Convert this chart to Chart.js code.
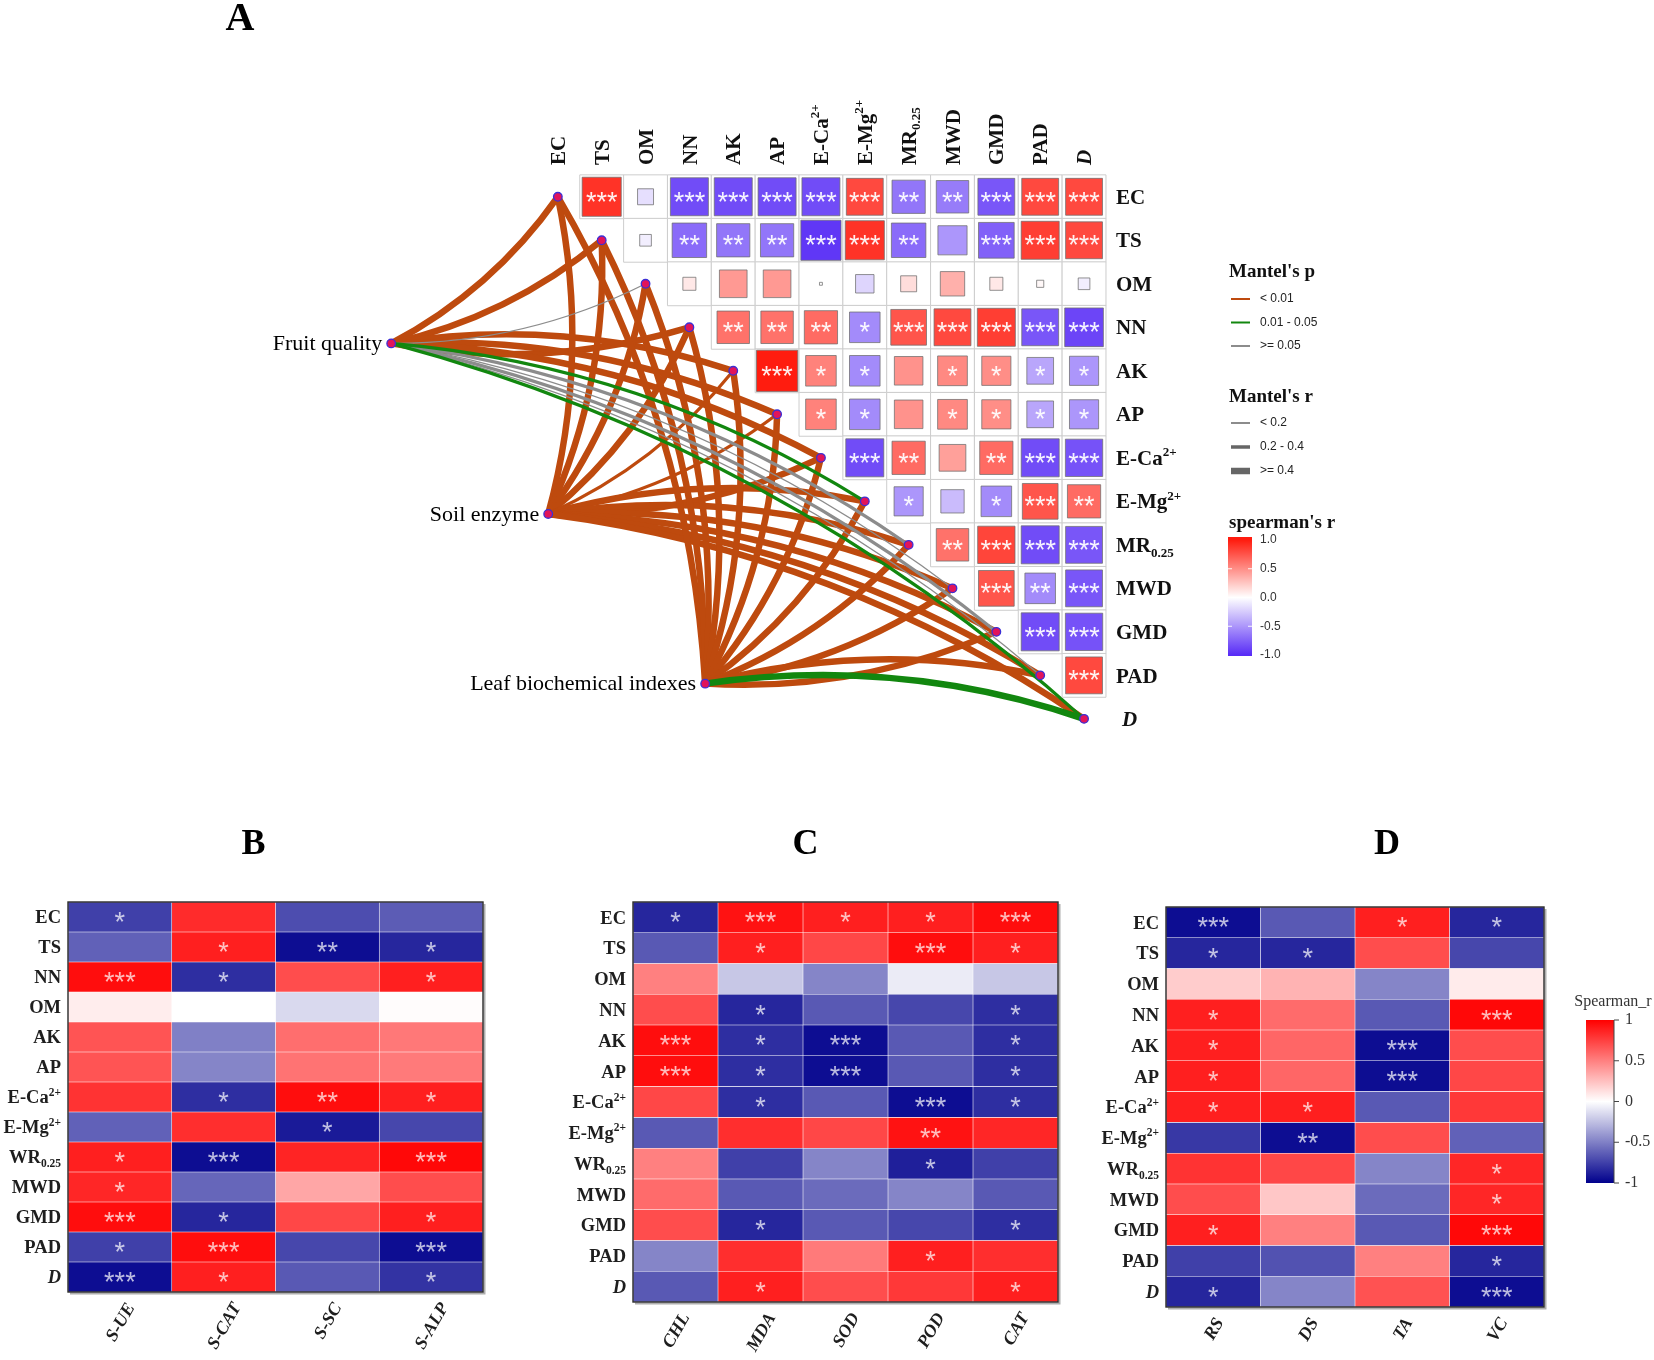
<!DOCTYPE html>
<html>
<head>
<meta charset="utf-8">
<script src="https://cdn.jsdelivr.net/npm/chart.js@4.4.1/dist/chart.umd.min.js"></script>
<style>
  html, body { margin: 0; background: #fff; }
  #page { position: relative; width: 1654px; height: 1360px; background: #fff; overflow: hidden; }
  canvas { position: absolute; }
</style>
</head>
<body>
<div id="page">
  <canvas id="chartA" width="1654" height="770" style="left:0;top:0"></canvas>
  <canvas id="chartB" width="540" height="580" style="left:0;top:780px"></canvas>
  <canvas id="chartC" width="540" height="580" style="left:540px;top:780px"></canvas>
  <canvas id="chartD" width="574" height="580" style="left:1080px;top:780px"></canvas>
</div>
<script>
// ---------- panel A data ----------
const envVars = ['EC', 'TS', 'OM', 'NN', 'AK', 'AP', 'E-Ca^{2+}', 'E-Mg^{2+}', 'MR_{0.25}', 'MWD', 'GMD', 'PAD', 'D'];

// upper triangle, row i holds columns i+1 .. 12
const corrA = [
  [0.90, -0.15, -0.85, -0.85, -0.85, -0.85, 0.80, -0.65, -0.62, -0.80, 0.80, 0.80],
  [-0.08, -0.70, -0.65, -0.65, -0.95, 0.90, -0.70, -0.50, -0.75, 0.85, 0.80],
  [0.10, 0.45, 0.45, 0.005, -0.20, 0.15, 0.35, 0.10, 0.03, -0.08],
  [0.62, 0.62, 0.65, -0.55, 0.75, 0.80, 0.85, -0.80, -0.88],
  [1.00, 0.55, -0.55, 0.48, 0.52, 0.50, -0.42, -0.50],
  [0.55, -0.55, 0.48, 0.52, 0.50, -0.42, -0.50],
  [-0.85, 0.65, 0.42, 0.65, -0.85, -0.82],
  [-0.50, -0.32, -0.55, 0.75, 0.65],
  [0.62, 0.82, -0.85, -0.80],
  [0.75, -0.55, -0.80],
  [-0.85, -0.82],
  [0.80],
  []
];
const starsA = [
  ['***', '', '***', '***', '***', '***', '***', '**', '**', '***', '***', '***'],
  ['', '**', '**', '**', '***', '***', '**', '', '***', '***', '***'],
  ['', '', '', '', '', '', '', '', '', ''],
  ['**', '**', '**', '*', '***', '***', '***', '***', '***'],
  ['***', '*', '*', '', '*', '*', '*', '*'],
  ['*', '*', '', '*', '*', '*', '*'],
  ['***', '**', '', '**', '***', '***'],
  ['*', '', '*', '***', '**'],
  ['**', '***', '***', '***'],
  ['***', '**', '***'],
  ['***', '***'],
  ['***'],
  []
];

const groups = ['Fruit quality', 'Soil enzyme', 'Leaf biochemical indexes'];
const groupX = [-3.80, -0.22, 3.36];   // in cell units of the matrix
const groupY = [3.37, 7.29, 11.19];
// Mantel's p class: 0 '< 0.01', 1 '0.01 - 0.05', 2 '>= 0.05'
const mantelP = [
  [0, 0, 2, 0, 0, 0, 0, 1, 2, 2, 2, 2, 1],
  [0, 0, 0, 0, 0, 0, 0, 0, 0, 0, 0, 0, 0],
  [0, 0, 0, 0, 0, 0, 0, 0, 0, 0, 0, 0, 1]
];
// Mantel's r class: 0 '< 0.2', 1 '0.2 - 0.4', 2 '>= 0.4'
const mantelR = [
  [2, 2, 0, 2, 2, 2, 2, 1, 1, 0, 1, 0, 1],
  [2, 2, 2, 2, 1, 1, 2, 2, 2, 2, 2, 2, 2],
  [2, 2, 2, 2, 2, 2, 2, 2, 2, 2, 2, 2, 2]
];
const pLevels = ['< 0.01', '0.01 - 0.05', '>= 0.05'];
const rLevels = ['< 0.2', '0.2 - 0.4', '>= 0.4'];
const ticksA = [1, 0.5, 0, -0.5, -1];

// ---------- panels B, C, D data ----------
const rowsB = ['EC', 'TS', 'NN', 'OM', 'AK', 'AP', 'E-Ca^{2+}', 'E-Mg^{2+}', 'WR_{0.25}', 'MWD', 'GMD', 'PAD', 'D'];
const colsB = ['S-UE', 'S-CAT', 'S-SC', 'S-ALP'];
const corrB = [
  [-0.75, 0.83, -0.70, -0.64],
  [-0.62, 0.88, -0.95, -0.85],
  [0.95, -0.82, 0.70, 0.88],
  [0.07, 0.00, -0.15, 0.01],
  [0.67, -0.50, 0.57, 0.53],
  [0.67, -0.48, 0.55, 0.52],
  [0.80, -0.82, 0.95, 0.88],
  [-0.62, 0.82, -0.90, -0.72],
  [0.88, -0.95, 0.86, 0.97],
  [0.85, -0.60, 0.35, 0.70],
  [0.95, -0.85, 0.72, 0.88],
  [-0.75, 0.95, -0.72, -0.95],
  [-0.95, 0.88, -0.65, -0.80]
];
const starsB = [
  ['*', '', '', ''],
  ['', '*', '**', '*'],
  ['***', '*', '', '*'],
  ['', '', '', ''],
  ['', '', '', ''],
  ['', '', '', ''],
  ['', '*', '**', '*'],
  ['', '', '*', ''],
  ['*', '***', '', '***'],
  ['*', '', '', ''],
  ['***', '*', '', '*'],
  ['*', '***', '', '***'],
  ['***', '*', '', '*']
];

const rowsCD = ['EC', 'TS', 'OM', 'NN', 'AK', 'AP', 'E-Ca^{2+}', 'E-Mg^{2+}', 'WR_{0.25}', 'MWD', 'GMD', 'PAD', 'D'];
const colsC = ['CHL', 'MDA', 'SOD', 'POD', 'CAT'];
const corrC = [
  [-0.85, 0.93, 0.88, 0.88, 0.95],
  [-0.65, 0.88, 0.72, 0.95, 0.88],
  [0.50, -0.22, -0.48, -0.08, -0.22],
  [0.70, -0.85, -0.65, -0.72, -0.82],
  [0.95, -0.82, -0.95, -0.65, -0.82],
  [0.95, -0.82, -0.95, -0.65, -0.82],
  [0.72, -0.82, -0.65, -0.95, -0.82],
  [-0.65, 0.82, 0.72, 0.93, 0.85],
  [0.50, -0.75, -0.48, -0.88, -0.75],
  [0.58, -0.65, -0.58, -0.48, -0.65],
  [0.70, -0.85, -0.65, -0.72, -0.82],
  [-0.48, 0.82, 0.52, 0.88, 0.82],
  [-0.65, 0.88, 0.70, 0.78, 0.88]
];
const starsC = [
  ['*', '***', '*', '*', '***'],
  ['', '*', '', '***', '*'],
  ['', '', '', '', ''],
  ['', '*', '', '', '*'],
  ['***', '*', '***', '', '*'],
  ['***', '*', '***', '', '*'],
  ['', '*', '', '***', '*'],
  ['', '', '', '**', ''],
  ['', '', '', '*', ''],
  ['', '', '', '', ''],
  ['', '*', '', '', '*'],
  ['', '', '', '*', ''],
  ['', '*', '', '', '*']
];

const colsD = ['RS', 'DS', 'TA', 'VC'];
const corrD = [
  [-0.95, -0.65, 0.88, -0.85],
  [-0.85, -0.85, 0.70, -0.72],
  [0.20, 0.30, -0.48, 0.08],
  [0.88, 0.58, -0.65, 0.97],
  [0.88, 0.60, -0.95, 0.70],
  [0.88, 0.60, -0.95, 0.72],
  [0.88, 0.88, -0.65, 0.78],
  [-0.78, -0.95, 0.70, -0.62],
  [0.80, 0.72, -0.48, 0.85],
  [0.70, 0.22, -0.58, 0.85],
  [0.88, 0.50, -0.65, 0.97],
  [-0.75, -0.68, 0.50, -0.85],
  [-0.85, -0.48, 0.68, -0.95]
];
const starsD = [
  ['***', '', '*', '*'],
  ['*', '*', '', ''],
  ['', '', '', ''],
  ['*', '', '', '***'],
  ['*', '', '***', ''],
  ['*', '', '***', ''],
  ['*', '*', '', ''],
  ['', '**', '', ''],
  ['', '', '', '*'],
  ['', '', '', '*'],
  ['*', '', '', '***'],
  ['', '', '', '*'],
  ['*', '', '', '***']
];
const ticksD = [1, 0.5, 0, -0.5, -1];

// ---------- styling ----------
const SERIF = '"Liberation Serif", "Times New Roman", serif';
const SANS = '"Liberation Sans", Arial, sans-serif';
const P_COLORS = ['#BE4A0E', '#12870F', '#8C8C8C'];
const R_WIDTHS = [1.3, 3.2, 6.5];
const CURV = 0.12;
const italicLabels = new Set(['D']);

function mix(c, t) {
  t = Math.max(0, Math.min(1, t));
  return `rgb(${Math.round(255 + (c[0] - 255) * t)},${Math.round(255 + (c[1] - 255) * t)},${Math.round(255 + (c[2] - 255) * t)})`;
}
const colorA = v => v >= 0 ? mix([255, 28, 15], v) : mix([88, 44, 246], -v);
const colorHeat = v => v >= 0 ? mix([255, 0, 0], v) : mix([0, 0, 140], -v);

function parseRich(label) {
  const segs = [];
  const re = /\^\{([^}]*)\}|_\{([^}]*)\}|([^\^_]+)/g;
  let m;
  while ((m = re.exec(label))) {
    if (m[1] !== undefined) segs.push({ t: m[1], k: 'sup' });
    else if (m[2] !== undefined) segs.push({ t: m[2], k: 'sub' });
    else segs.push({ t: m[3], k: 'n' });
  }
  return segs;
}

// baseline-positioned rich text (super/subscripts)
function drawRich(ctx, label, x, y, size, opt) {
  const segs = parseRich(label);
  const style = (italicLabels.has(label) ? 'italic ' : (opt.italic ? 'italic ' : '')) + (opt.bold ? 'bold ' : '');
  const font = s => `${style}${s}px ${SERIF}`;
  let w = 0;
  segs.forEach(s => {
    s.size = s.k === 'n' ? size : size * 0.62;
    ctx.font = font(s.size);
    s.w = ctx.measureText(s.t).width;
    w += s.w;
  });
  let cx = opt.align === 'right' ? x - w : opt.align === 'center' ? x - w / 2 : x;
  ctx.textAlign = 'left';
  ctx.textBaseline = 'alphabetic';
  ctx.fillStyle = opt.color || '#111';
  segs.forEach(s => {
    ctx.font = font(s.size);
    const dy = s.k === 'sup' ? -size * 0.42 : s.k === 'sub' ? size * 0.22 : 0;
    ctx.fillText(s.t, cx, y + dy);
    cx += s.w;
  });
  return w;
}

function richWidth(ctx, label, size, opt) {
  let w = 0;
  const style = (italicLabels.has(label) || opt.italic ? 'italic ' : '') + (opt.bold ? 'bold ' : '');
  parseRich(label).forEach(s => {
    ctx.font = `${style}${s.k === 'n' ? size : size * 0.62}px ${SERIF}`;
    w += ctx.measureText(s.t).width;
  });
  return w;
}

function drawStars(ctx, s, cx, cy, size, color) {
  if (!s) return;
  ctx.font = `${size}px ${SANS}`;
  ctx.textAlign = 'center';
  ctx.textBaseline = 'alphabetic';
  const m = ctx.measureText(s);
  ctx.fillStyle = color;
  ctx.fillText(s, cx, cy + (m.actualBoundingBoxAscent - m.actualBoundingBoxDescent) / 2);
}

// ---------- panel A ----------
const CELL = 44.15, X0 = 556, Y0 = 194;   // pixel centre of the first matrix cell
const W_A = 1654, H_A = 770;

const gridA = [], squaresA = [];
for (let i = 0; i < envVars.length; i++) {
  for (let j = i + 1; j < envVars.length; j++) {
    gridA.push({ x: j, y: i });
    squaresA.push({ x: j, y: i, v: corrA[i][j - i - 1], s: starsA[i][j - i - 1] });
  }
}
const nodesA = envVars.map((_, k) => ({ x: k, y: k }))
  .concat(groups.map((_, g) => ({ x: groupX[g], y: groupY[g] })));

const cellPx = chart => Math.abs(chart.scales.x.getPixelForValue(1) - chart.scales.x.getPixelForValue(0));

const panelA = {
  id: 'panelA',
  beforeDatasetsDraw(chart) {
    const { ctx } = chart, xs = chart.scales.x, ys = chart.scales.y;
    ctx.save();
    ctx.lineCap = 'round';
    const links = [];
    groups.forEach((g, gi) => envVars.forEach((e, k) => links.push({ gi, k, p: mantelP[gi][k], r: mantelR[gi][k] })));
    const drawOrder = [0, 2, 1];
    links.sort((a, b) => drawOrder.indexOf(a.p) - drawOrder.indexOf(b.p));
    links.forEach(l => {
      const x0 = xs.getPixelForValue(groupX[l.gi]), y0 = ys.getPixelForValue(groupY[l.gi]);
      const x1 = xs.getPixelForValue(l.k), y1 = ys.getPixelForValue(l.k);
      const dx = x1 - x0, dy = y1 - y0;
      const sign = groupY[l.gi] - l.k > 0.3 ? 1 : -1;
      const cx = (x0 + x1) / 2 - sign * CURV * dy;
      const cy = (y0 + y1) / 2 + sign * CURV * dx;
      ctx.beginPath();
      ctx.moveTo(x0, y0);
      ctx.quadraticCurveTo(cx, cy, x1, y1);
      ctx.strokeStyle = P_COLORS[l.p];
      ctx.lineWidth = R_WIDTHS[l.r];
      ctx.stroke();
    });
    ctx.restore();
  },
  afterDraw(chart) {
    const { ctx } = chart, xs = chart.scales.x, ys = chart.scales.y;
    ctx.save();
    squaresA.forEach(d => drawStars(ctx, d.s, xs.getPixelForValue(d.x), ys.getPixelForValue(d.y), 27, 'rgba(255,255,255,0.93)'));

    // column labels (top, vertical)
    const topY = ys.getPixelForValue(-0.5) - 10;
    envVars.forEach((lab, k) => {
      ctx.save();
      ctx.translate(xs.getPixelForValue(k), topY);
      ctx.rotate(-Math.PI / 2);
      drawRich(ctx, lab, 0, 21 * 0.34, 21, { bold: true, align: 'left', color: '#111' });
      ctx.restore();
    });
    // row labels (right)
    const rightX = xs.getPixelForValue(envVars.length - 0.5) + 10;
    envVars.forEach((lab, k) => {
      drawRich(ctx, lab, rightX + (k === envVars.length - 1 ? 6 : 0), ys.getPixelForValue(k) + 21 * 0.34, 21, { bold: true, align: 'left', color: '#111' });
    });
    // group labels
    groups.forEach((g, gi) => {
      ctx.font = `22px ${SERIF}`;
      ctx.textAlign = 'right';
      ctx.textBaseline = 'middle';
      ctx.fillStyle = '#000';
      ctx.fillText(g, xs.getPixelForValue(groupX[gi]) - 9, ys.getPixelForValue(groupY[gi]) + 1);
    });
    // title
    ctx.font = `bold 40px ${SERIF}`;
    ctx.textAlign = 'center';
    ctx.textBaseline = 'middle';
    ctx.fillStyle = '#000';
    ctx.fillText('A', 240, 20);

    // legends
    const LX = 1229;
    const head = (t, y) => {
      ctx.font = `bold 19px ${SERIF}`;
      ctx.textAlign = 'left';
      ctx.textBaseline = 'middle';
      ctx.fillStyle = '#111';
      ctx.fillText(t, LX, y);
    };
    const item = (t, y, color, lw) => {
      ctx.beginPath();
      ctx.moveTo(LX + 2, y);
      ctx.lineTo(LX + 21, y);
      ctx.strokeStyle = color;
      ctx.lineWidth = lw;
      ctx.stroke();
      ctx.font = `12px ${SANS}`;
      ctx.textAlign = 'left';
      ctx.textBaseline = 'middle';
      ctx.fillStyle = '#222';
      ctx.fillText(t, LX + 31, y);
    };
    head("Mantel's p", 272);
    pLevels.forEach((t, i) => item(t, 299 + i * 23.5, P_COLORS[i], 2));
    head("Mantel's r", 397);
    rLevels.forEach((t, i) => item(t, 423 + i * 24, '#666', [1.5, 3.5, 6.5][i]));
    head("spearman's r", 523);
    const bx = LX - 1, bTop = 537, bW = 24, bH = 119;
    const yv = v => bTop + 3 + (1 - v) / 2 * (bH - 4);
    const grad = ctx.createLinearGradient(0, yv(1), 0, yv(-1));
    for (let s = 0; s <= 20; s++) grad.addColorStop(s / 20, colorA(1 - s / 10));
    ctx.fillStyle = grad;
    ctx.fillRect(bx, bTop, bW, bH);
    ticksA.forEach(v => {
      if (Math.abs(v) < 1) {
        ctx.strokeStyle = 'rgba(255,255,255,0.9)';
        ctx.lineWidth = 1;
        ctx.beginPath();
        ctx.moveTo(bx, yv(v)); ctx.lineTo(bx + 4, yv(v));
        ctx.moveTo(bx + bW - 4, yv(v)); ctx.lineTo(bx + bW, yv(v));
        ctx.stroke();
      }
      ctx.font = `12px ${SANS}`;
      ctx.textAlign = 'left';
      ctx.textBaseline = 'middle';
      ctx.fillStyle = '#333';
      ctx.fillText(v.toFixed(1), LX + 31, yv(v));
    });
    ctx.restore();
  }
};

new Chart(document.getElementById('chartA'), {
  type: 'scatter',
  data: {
    datasets: [
      {
        label: 'nodes',
        data: nodesA,
        order: 1,
        pointStyle: 'circle',
        pointRadius: 4.3,
        pointBackgroundColor: '#E1145A',
        pointBorderColor: '#3B2FD6',
        pointBorderWidth: 1.3,
      },
      {
        label: 'spearman',
        data: squaresA,
        order: 2,
        pointStyle: 'rect',
        pointRadius: c => c.raw ? cellPx(c.chart) * 0.94 * Math.sqrt(Math.abs(c.raw.v)) / Math.SQRT2 : 0,
        pointBackgroundColor: c => c.raw ? colorA(c.raw.v) : '#fff',
        pointBorderColor: 'rgba(110,110,110,0.75)',
        pointBorderWidth: 1,
      },
      {
        label: 'grid',
        data: gridA,
        order: 3,
        pointStyle: 'rect',
        pointRadius: c => cellPx(c.chart) / Math.SQRT2,
        pointBackgroundColor: '#fff',
        pointBorderColor: '#cdcdcd',
        pointBorderWidth: 1,
      },
    ],
  },
  options: {
    responsive: false,
    animation: false,
    events: [],
    layout: { padding: 0 },
    plugins: { legend: { display: false }, tooltip: { enabled: false } },
    scales: {
      x: { type: 'linear', display: false, min: -X0 / CELL, max: (W_A - X0) / CELL },
      y: { type: 'linear', display: false, reverse: true, min: -Y0 / CELL, max: (H_A - Y0) / CELL },
    },
  },
  plugins: [panelA],
});

// ---------- panels B, C, D ----------
function heatmap(id, title, rows, cols, vals, stars, cfg) {
  const plugin = {
    id: 'heat' + id,
    afterDatasetsDraw(chart) {
      const { ctx, chartArea: a } = chart, xs = chart.scales.x, ys = chart.scales.y;
      ctx.save();
      rows.forEach((r, i) => cols.forEach((c, j) => {
        drawStars(ctx, stars[i][j], xs.getPixelForValue(j + 0.5), ys.getPixelForValue(i), 27, 'rgba(255,255,255,0.72)');
      }));
      ctx.strokeStyle = 'rgba(120,120,120,0.6)';
      ctx.lineWidth = 2;
      ctx.beginPath();
      ctx.moveTo(a.left + 2, a.bottom + 1.5); ctx.lineTo(a.right + 1.5, a.bottom + 1.5); ctx.lineTo(a.right + 1.5, a.top + 2);
      ctx.stroke();
      ctx.strokeStyle = '#2a2a2a';
      ctx.lineWidth = 1.4;
      ctx.strokeRect(a.left, a.top, a.right - a.left, a.bottom - a.top);
      ctx.restore();
    },
    afterDraw(chart) {
      const { ctx, chartArea: a } = chart, xs = chart.scales.x, ys = chart.scales.y;
      ctx.save();
      rows.forEach((lab, i) => {
        drawRich(ctx, lab, a.left - 7, ys.getPixelForValue(i) + 18.5 * 0.34, 18.5, { bold: true, align: 'right', color: '#1e1e1e' });
      });
      const ang = Math.PI / 3;
      cols.forEach((lab, j) => {
        const w = richWidth(ctx, lab, 18, { bold: true, italic: true });
        const hy = (w / 2) * Math.sin(ang) + 6 * Math.cos(ang);
        ctx.save();
        ctx.translate(xs.getPixelForValue(j + 0.5), a.bottom + 9 + hy);
        ctx.rotate(-ang);
        drawRich(ctx, lab, 0, 6, 18, { bold: true, italic: true, align: 'center', color: '#1e1e1e' });
        ctx.restore();
      });
      ctx.font = `bold 36px ${SERIF}`;
      ctx.textAlign = 'center';
      ctx.textBaseline = 'middle';
      ctx.fillStyle = '#000';
      ctx.fillText(title, (a.left + a.right) / 2 + cfg.titleDx, 65);

      if (cfg.colorbar) {
        const bx = a.right + 42, bTop = a.top + 113, bW = 28, bH = 163;
        const yv = v => bTop + (1 - v) / 2 * bH;
        const grad = ctx.createLinearGradient(0, bTop, 0, bTop + bH);
        for (let s = 0; s <= 20; s++) grad.addColorStop(s / 20, colorHeat(1 - s / 10));
        ctx.fillStyle = grad;
        ctx.fillRect(bx, bTop, bW, bH);
        ctx.strokeStyle = '#444';
        ctx.lineWidth = 1;
        ctx.beginPath();
        ctx.moveTo(bx + bW, bTop); ctx.lineTo(bx + bW, bTop + bH);
        ctx.stroke();
        ticksD.forEach(v => {
          ctx.beginPath();
          ctx.moveTo(bx + bW, yv(v)); ctx.lineTo(bx + bW + 5, yv(v));
          ctx.stroke();
          ctx.font = `16px ${SERIF}`;
          ctx.textAlign = 'left';
          ctx.textBaseline = 'middle';
          ctx.fillStyle = '#333';
          ctx.fillText(String(v), bx + bW + 11, yv(v));
        });
        ctx.font = `16px ${SERIF}`;
        ctx.textAlign = 'center';
        ctx.textBaseline = 'middle';
        ctx.fillStyle = '#333';
        ctx.fillText('Spearman_r', bx + bW / 2 + 13, bTop - 18);
      }
      ctx.restore();
    }
  };

  return new Chart(document.getElementById(id), {
    type: 'bar',
    data: {
      labels: rows,
      datasets: cols.map((c, j) => ({
        label: c,
        data: rows.map(() => [j, j + 1]),
        backgroundColor: vals.map(r => colorHeat(r[j])),
        borderColor: 'rgba(255,255,255,0.22)',
        borderWidth: 0.6,
        borderSkipped: false,
        grouped: false,
        barPercentage: 1,
        categoryPercentage: 1,
      })),
    },
    options: {
      indexAxis: 'y',
      responsive: false,
      animation: false,
      events: [],
      layout: { padding: cfg.pad },
      plugins: { legend: { display: false }, tooltip: { enabled: false } },
      scales: {
        x: { type: 'linear', min: 0, max: cols.length, display: false },
        y: { display: false },
      },
    },
    plugins: [plugin],
  });
}

heatmap('chartB', 'B', rowsB, colsB, corrB, starsB, { pad: { left: 68, right: 57, top: 122, bottom: 68 }, titleDx: -22 });
heatmap('chartC', 'C', rowsCD, colsC, corrC, starsC, { pad: { left: 93, right: 22, top: 122, bottom: 58 }, titleDx: -40 });
heatmap('chartD', 'D', rowsCD, colsD, corrD, starsD, { pad: { left: 86, right: 110, top: 127, bottom: 53 }, titleDx: 32, colorbar: true });
</script>
</body>
</html>
